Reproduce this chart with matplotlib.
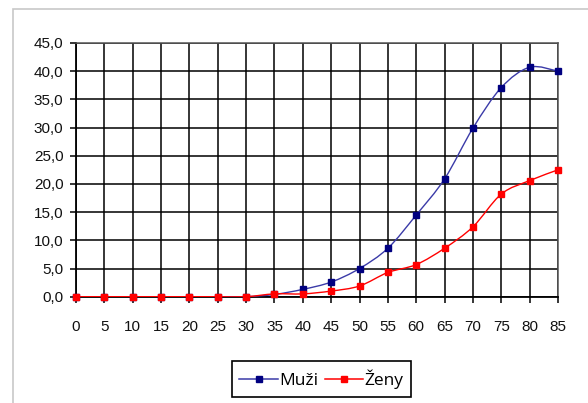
import numpy as np
import matplotlib
matplotlib.use("Agg")
import matplotlib.pyplot as plt
from matplotlib.path import Path
from matplotlib.patches import PathPatch, Rectangle
from matplotlib.lines import Line2D

# age groups and rates for men / women
ages = list(range(0, 90, 5))
muzi = [0, 0, 0, 0, 0, 0, 0, 0.4, 1.3, 2.6, 5.0, 8.6, 14.5, 20.9, 29.9, 37.1, 40.7, 40.0]
zeny = [0, 0, 0, 0, 0, 0, 0, 0.5, 0.5, 1.0, 1.9, 4.3, 5.7, 8.6, 12.4, 18.2, 20.6, 22.5]
yticks = np.arange(0, 50, 5)

blue_line = "#3a3aa8"
blue_mark = "#000080"
red = "#ff0000"


def smooth_path(x, y):
    # cubic bezier through all points (catmull-rom style control points)
    p = np.column_stack([x, y]).astype(float)
    pts = np.vstack([p[0], p, p[-1]])
    verts = [p[0]]
    codes = [Path.MOVETO]
    for i in range(1, len(pts) - 2):
        c1 = pts[i] + (pts[i + 1] - pts[i - 1]) / 6
        c2 = pts[i + 1] - (pts[i + 2] - pts[i]) / 6
        verts += [c1, c2, pts[i + 1]]
        codes += [Path.CURVE4] * 3
    return Path(verts, codes)


fig = plt.figure(figsize=(5.88, 4.03), dpi=100)
ax = fig.add_axes([76 / 588, 1 - 296.7 / 403, 482 / 588, 253.7 / 403])

# light outer frame of the chart area
fig.patches.append(Rectangle((13 / 588, -0.1), 1.2, 1.1 - 9 / 403,
                             transform=fig.transFigure, fill=False,
                             edgecolor="#c8c8c8", linewidth=1.2))

ax.set_xlim(0, 85)
ax.set_ylim(0, 45)
ax.set_xticks(ages)
ax.set_yticks(yticks)
ax.set_yticklabels([f"{v:.1f}".replace(".", ",") for v in yticks])
ax.grid(True, color="black", linewidth=1.1)
ax.set_axisbelow(True)
for side in ["left", "bottom"]:
    ax.spines[side].set_color("black")
    ax.spines[side].set_linewidth(1.3)
for side in ["top", "right"]:
    ax.spines[side].set_color("#555555")
    ax.spines[side].set_linewidth(1.1)
ax.tick_params(direction="out", length=4, width=1.1, color="black",
               labelsize=11, labelcolor="#111111")
ax.tick_params(axis="x", pad=13)
ax.tick_params(axis="y", pad=5)
for lab in ax.get_xticklabels() + ax.get_yticklabels():
    lab.set_fontfamily("Liberation Sans")

ax.add_patch(PathPatch(smooth_path(ages, muzi), facecolor="none",
                       edgecolor=blue_line, linewidth=1.0, zorder=3))
ax.plot(ages, muzi, linestyle="none", marker="s", markersize=4.5,
        color=blue_mark, zorder=4, clip_on=False)
ax.add_patch(PathPatch(smooth_path(ages, zeny), facecolor="none",
                       edgecolor=red, linewidth=1.0, zorder=5))
ax.plot(ages, zeny, linestyle="none", marker="s", markersize=5,
        color=red, zorder=6, clip_on=False)

handles = [
    Line2D([], [], color=blue_line, linewidth=1.1, marker="s", markersize=4,
           markerfacecolor=blue_mark, markeredgecolor=blue_mark),
    Line2D([], [], color=red, linewidth=1.1, marker="s", markersize=4.5),
]
leg = fig.legend(handles, ["Muži", "Ženy"], loc="center",
                 bbox_to_anchor=(321.5 / 588, 1 - 379 / 403), ncol=2,
                 fancybox=False, edgecolor="black", framealpha=1,
                 handlelength=2.2, handletextpad=0.1, columnspacing=0.35,
                 borderpad=0.45, prop={"family": "Open Sans", "size": 12.5})
leg.get_frame().set_linewidth(1.2)

fig.savefig("out.png", dpi=100)
